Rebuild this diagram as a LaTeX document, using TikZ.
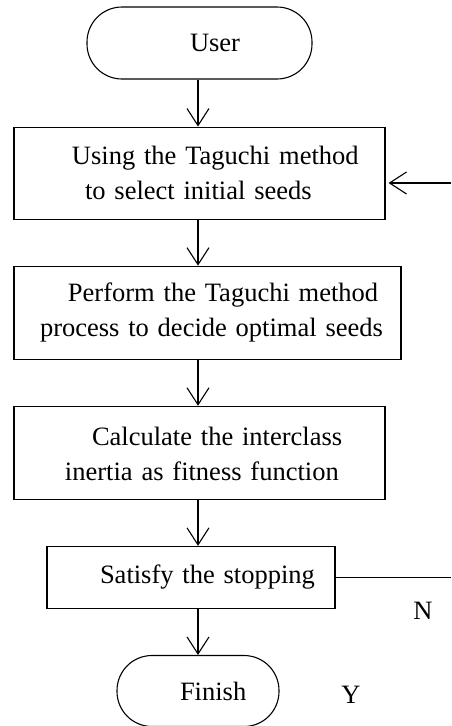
\documentclass[tikz,border=0pt]{standalone}
\usepackage{fontspec}
\setmainfont{Liberation Serif}
\usetikzlibrary{arrows.meta,positioning}

\begin{document}
\begin{tikzpicture}[
  x=1pt, y=1pt,
  font=\fontsize{26.5}{35}\selectfont,
  node distance=46pt,
  line width=1.1pt,
  >={Straight Barb[length=17pt,width=22pt]},
  box/.style={draw,align=left,inner xsep=0pt,inner ysep=0pt,text width=#1},
  term/.style={box=#1,rounded corners=35pt,minimum height=71pt}
]
\useasboundingbox (0,0) rectangle (451,-726);

% ---- Flow steps ----
\node[term=225pt, minimum height=72pt] (user) at (199.5,-43) {\hspace*{103pt}User};

\node[box=371pt, minimum height=92pt, below=47pt of user] (s1)
{\hspace*{58pt}Using the Taguchi method\\\hspace*{71pt}to select initial seeds};
\node[box=387pt, minimum height=93pt, below=of s1, xshift=8pt] (s2)
{\hspace*{54pt}Perform the Taguchi method\\\hspace*{26pt}process to decide optimal seeds};
\node[box=371pt, minimum height=93pt, below=of s2, xshift=-8pt] (s3)
{\mbox{}\\[-14pt]\hspace*{78pt}Calculate the interclass\\\hspace*{51pt}inertia as fitness function};
\node[box=288pt, minimum height=62pt, below=of s3, xshift=-8.5pt] (s4)
{\hspace*{53pt}Satisfy the stopping};

\node[term=162pt, below=of s4, xshift=7pt] (fin) {\hspace*{63pt}Finish};

% ---- Arrows ----
\coordinate (spine) at (198,0);
\foreach \a/\b in {user/s1,s1/s2,s2/s3,s3/s4,s4/fin} {
  \draw[->] (spine |- \a.south) -- (spine |- \b.north);
}

% ---- Loop back ----
\coordinate (loopin) at (451,-183);
\coordinate (loopout) at (451,0);
\draw[->, shorten >=3pt] (loopin) -- (loopin -| s1.east);
\draw (s4.east) -- (s4.east -| loopout);

\node (no) at (423,-611) {N};
\node (yes) at (351,-695) {Y};

\end{tikzpicture}
\end{document}
